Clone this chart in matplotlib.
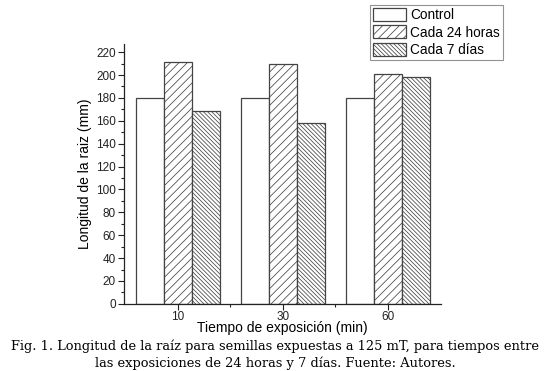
import numpy as np
import matplotlib.pyplot as plt
from matplotlib.ticker import MultipleLocator, FixedLocator

categories = ['10', '30', '60']
control = [180, 180, 180]
cada_24h = [211, 210, 201]
cada_7d = [169, 158, 198]
series_names = ['Control', 'Cada 24 horas', 'Cada 7 días']

plt.rcParams['font.family'] = ['Liberation Sans', 'DejaVu Sans']
plt.rcParams['hatch.linewidth'] = 0.55
plt.rcParams['hatch.color'] = '#666666'

fig = plt.figure(figsize=(5.5, 3.71), dpi=100)
ax = fig.add_axes([0.226, 0.181, 0.576, 0.700])

x = np.arange(len(categories))
w = 0.267
edge = '#444444'
b1 = ax.bar(x - w, control, w, color='white', edgecolor=edge, linewidth=0.9, label=series_names[0])
b2 = ax.bar(x, cada_24h, w, color='white', edgecolor=edge, linewidth=0.9, hatch='////', label=series_names[1])
b3 = ax.bar(x + w, cada_7d, w, color='white', edgecolor=edge, linewidth=0.9, hatch='\\' * 8, label=series_names[2])

ax.set_xlim(-0.51, 2.51)
ax.set_ylim(0, 227)
ax.set_xticks(x)
ax.set_xticklabels(categories)
ax.xaxis.set_minor_locator(FixedLocator([0.5, 1.5]))
ax.yaxis.set_major_locator(MultipleLocator(20))
ax.yaxis.set_minor_locator(MultipleLocator(10))

for s in ['top', 'right']:
    ax.spines[s].set_visible(False)
for s in ['left', 'bottom']:
    ax.spines[s].set_color('#222222')
    ax.spines[s].set_linewidth(0.9)

ax.tick_params(axis='both', which='major', direction='out', length=4, width=0.8,
               labelsize=8.5, colors='#222222', pad=2)
ax.tick_params(axis='x', which='major', pad=1)
ax.tick_params(axis='both', which='minor', direction='out', length=2.5, width=0.8, colors='#222222')

ax.set_xlabel('Tiempo de exposición (min)', fontsize=10, labelpad=-1)
ax.set_ylabel('Longitud de la raiz (mm)', fontsize=10, labelpad=3)

leg = fig.legend(handles=[b1, b2, b3], loc='upper left', bbox_to_anchor=(0.672, 0.987),
                 fontsize=9.8, frameon=True, fancybox=False, edgecolor='#777777',
                 handlelength=2.4, handleheight=1.1, handletextpad=0.3,
                 borderpad=0.25, labelspacing=0.22, borderaxespad=0)
leg.get_frame().set_linewidth(0.8)

fig.text(0.5, 0.068, 'Fig. 1. Longitud de la raíz para semillas expuestas a 125 mT, para tiempos entre',
         ha='center', va='center', fontsize=9.4, family=['DejaVu Serif'])
fig.text(0.5, 0.022, 'las exposiciones de 24 horas y 7 días. Fuente: Autores.',
         ha='center', va='center', fontsize=9.4, family=['DejaVu Serif'])

fig.savefig('out.png', dpi=100)
